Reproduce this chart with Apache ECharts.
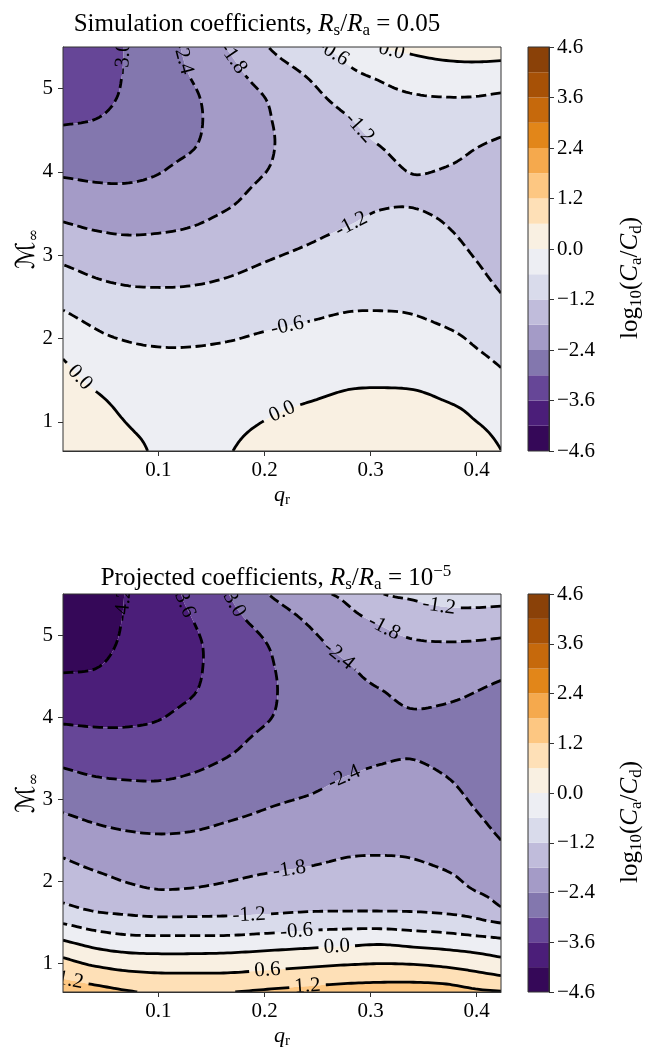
<!DOCTYPE html>
<html>
<head>
<meta charset="utf-8">
<script src="https://cdn.jsdelivr.net/npm/echarts@6.0.0/dist/echarts.min.js"></script>
<style>
html,body{margin:0;padding:0;background:#ffffff;}
#chart{width:649px;height:1051px;}
</style>
</head>
<body>
<div id="chart"></div>
<script>
// ================= DATA =================
// grid of mass ratio q_r (columns) and Mach number M_inf (rows)
const qr = [0.01, 0.04, 0.07, 0.10, 0.13, 0.165, 0.20, 0.245, 0.28, 0.31, 0.34, 0.37, 0.40, 0.423];
const mach = [0.65, 0.85, 1.05, 1.25, 1.45, 1.65, 1.9, 2.2, 2.5, 2.8, 3.1, 3.4, 3.7, 4.0, 4.3, 4.6, 4.9, 5.2, 5.5];

// log10(Ca/Cd), simulation coefficients (Rs/Ra = 0.05): one array per q_r value, entries over mach
const simCoeff = [
  [0.45, 0.42, 0.37, 0.30, 0.20, 0.08, -0.13, -0.45, -0.77, -1.10, -1.45, -1.80, -2.14, -2.47, -2.76, -3.03, -3.20, -3.33, -3.42],
  [0.42, 0.35, 0.24, 0.10, -0.06, -0.22, -0.42, -0.67, -0.97, -1.27, -1.59, -1.91, -2.23, -2.51, -2.75, -2.98, -3.15, -3.27, -3.35],
  [0.25, 0.08, -0.04, -0.15, -0.28, -0.40, -0.55, -0.80, -1.07, -1.36, -1.66, -1.95, -2.24, -2.52, -2.72, -2.84, -2.93, -2.96, -2.97],
  [-0.12, -0.15, -0.20, -0.27, -0.36, -0.46, -0.60, -0.85, -1.10, -1.37, -1.65, -1.92, -2.17, -2.42, -2.58, -2.67, -2.72, -2.75, -2.76],
  [-0.30, -0.32, -0.35, -0.40, -0.46, -0.52, -0.60, -0.84, -1.09, -1.34, -1.60, -1.85, -2.05, -2.23, -2.44, -2.51, -2.49, -2.37, -2.24],
  [-0.04, -0.10, -0.17, -0.25, -0.34, -0.44, -0.56, -0.78, -1.02, -1.25, -1.47, -1.69, -1.90, -2.02, -2.12, -2.15, -2.11, -1.98, -1.78],
  [0.22, 0.10, -0.02, -0.13, -0.25, -0.36, -0.48, -0.68, -0.90, -1.12, -1.32, -1.48, -1.65, -1.81, -1.87, -1.86, -1.80, -1.55, -1.25],
  [0.42, 0.32, 0.16, 0.00, -0.13, -0.27, -0.40, -0.59, -0.79, -0.98, -1.17, -1.33, -1.45, -1.53, -1.55, -1.50, -1.33, -1.08, -0.68],
  [0.48, 0.40, 0.28, 0.10, -0.04, -0.16, -0.31, -0.52, -0.71, -0.88, -1.05, -1.22, -1.33, -1.38, -1.35, -1.24, -0.98, -0.67, -0.40],
  [0.50, 0.42, 0.30, 0.13, -0.03, -0.16, -0.31, -0.52, -0.69, -0.83, -0.98, -1.13, -1.26, -1.30, -1.20, -0.98, -0.76, -0.47, 0.01],
  [0.52, 0.44, 0.31, 0.12, -0.05, -0.18, -0.33, -0.55, -0.70, -0.84, -0.98, -1.12, -1.24, -1.19, -1.02, -0.83, -0.64, -0.27, 0.12],
  [0.50, 0.40, 0.23, 0.00, -0.14, -0.26, -0.42, -0.64, -0.79, -0.94, -1.08, -1.21, -1.31, -1.23, -1.03, -0.81, -0.60, -0.18, 0.20],
  [0.35, 0.15, -0.04, -0.17, -0.29, -0.43, -0.61, -0.78, -0.95, -1.13, -1.28, -1.38, -1.42, -1.36, -1.19, -0.90, -0.61, -0.17, 0.25],
  [0.01, -0.12, -0.24, -0.35, -0.47, -0.60, -0.77, -0.97, -1.17, -1.36, -1.50, -1.60, -1.63, -1.55, -1.32, -1.00, -0.67, -0.21, 0.25]
];

// log10(Ca/Cd), projected coefficients (Rs/Ra = 1e-5): one array per q_r value, entries over mach
const projCoeff = [
  [1.58, 1.11, 0.65, 0.09, -0.50, -1.05, -1.40, -1.71, -2.03, -2.36, -2.69, -3.02, -3.36, -3.69, -3.97, -4.25, -4.40, -4.48, -4.52],
  [1.42, 0.91, 0.37, -0.18, -0.74, -1.24, -1.54, -1.88, -2.19, -2.50, -2.81, -3.13, -3.43, -3.71, -3.96, -4.21, -4.36, -4.44, -4.48],
  [1.25, 0.75, 0.22, -0.33, -0.87, -1.32, -1.70, -2.01, -2.29, -2.58, -2.87, -3.16, -3.44, -3.70, -3.90, -4.03, -4.12, -4.16, -4.18],
  [1.12, 0.68, 0.17, -0.35, -0.92, -1.38, -1.80, -2.06, -2.33, -2.61, -2.89, -3.15, -3.39, -3.63, -3.80, -3.89, -3.94, -3.96, -3.97],
  [1.10, 0.67, 0.17, -0.35, -0.92, -1.37, -1.78, -2.05, -2.31, -2.57, -2.83, -3.07, -3.26, -3.45, -3.64, -3.71, -3.72, -3.62, -3.45],
  [1.18, 0.68, 0.20, -0.34, -0.91, -1.34, -1.70, -1.98, -2.22, -2.46, -2.69, -2.92, -3.12, -3.25, -3.34, -3.36, -3.32, -3.18, -3.02],
  [1.28, 0.76, 0.26, -0.26, -0.85, -1.30, -1.60, -1.90, -2.13, -2.35, -2.54, -2.71, -2.88, -3.05, -3.10, -3.09, -3.02, -2.80, -2.45],
  [1.40, 0.87, 0.35, -0.17, -0.73, -1.24, -1.50, -1.81, -2.01, -2.22, -2.42, -2.56, -2.66, -2.72, -2.73, -2.66, -2.52, -2.28, -1.92],
  [1.48, 0.95, 0.42, -0.11, -0.69, -1.23, -1.45, -1.73, -1.93, -2.11, -2.29, -2.45, -2.54, -2.57, -2.54, -2.43, -2.20, -1.93, -1.67],
  [1.52, 0.98, 0.46, -0.06, -0.69, -1.23, -1.45, -1.72, -1.91, -2.07, -2.23, -2.39, -2.48, -2.50, -2.42, -2.20, -1.98, -1.70, -1.22],
  [1.52, 0.98, 0.42, -0.15, -0.75, -1.24, -1.47, -1.75, -1.92, -2.07, -2.22, -2.37, -2.45, -2.44, -2.28, -2.06, -1.85, -1.50, -1.10],
  [1.50, 0.90, 0.33, -0.23, -0.82, -1.29, -1.57, -1.85, -2.00, -2.15, -2.30, -2.45, -2.53, -2.50, -2.29, -2.06, -1.82, -1.40, -0.98],
  [1.30, 0.73, 0.20, -0.34, -0.95, -1.43, -1.83, -2.01, -2.19, -2.37, -2.52, -2.63, -2.68, -2.62, -2.41, -2.13, -1.84, -1.40, -0.95],
  [1.23, 0.60, 0.06, -0.44, -1.06, -1.73, -1.97, -2.18, -2.40, -2.58, -2.72, -2.82, -2.86, -2.78, -2.55, -2.23, -1.89, -1.44, -0.96]
];

// contour levels and tick labels
const levels = [-4.6, -4.2, -3.6, -3.0, -2.4, -1.8, -1.2, -0.6, 0.0, 0.6, 1.2, 1.8, 2.4, 3.0, 3.6, 4.2, 4.6];
const cbarTicks = [-4.6, -3.6, -2.4, -1.2, 0.0, 1.2, 2.4, 3.6, 4.6];
const qrTicks = [0.1, 0.2, 0.3, 0.4];
const machTicks = [1, 2, 3, 4, 5];

// contour label anchors: [level, q_r, M_inf]
const simLabels = [
  [-3.0, 0.066, 5.37], [-2.4, 0.121, 5.37], [-1.8, 0.172, 5.38], [-0.6, 0.265, 5.43], [0.0, 0.318, 5.46],
  [-1.2, 0.292, 4.53], [-1.2, 0.281, 3.36], [-0.6, 0.222, 2.16], [0.0, 0.026, 1.56], [0.0, 0.216, 1.12]
];
const projLabels = [
  [-4.2, 0.068, 5.38], [-3.6, 0.122, 5.39], [-3.0, 0.172, 5.40], [-2.4, 0.271, 4.79], [-1.8, 0.313, 5.11],
  [-1.2, 0.363, 5.37], [-2.4, 0.273, 3.29], [-1.8, 0.222, 2.12], [-1.2, 0.185, 1.57], [-0.6, 0.229, 1.39],
  [0.0, 0.268, 1.20], [0.6, 0.204, 0.92], [1.2, 0.240, 0.74], [1.2, 0.018, 0.78]
];

// ================= STYLE =================
const FONT = '"Liberation Serif", "Times New Roman", serif';
const LABEL_FONT = '21px "Liberation Serif", serif';
const PUOR_R = ['#2d004b', '#542788', '#8073ac', '#b2abd2', '#d8daeb', '#f7f7f7', '#fee0b6', '#fdb863', '#e08214', '#b35806', '#7f3b08'];
function hexRgb(h) { return [parseInt(h.slice(1, 3), 16), parseInt(h.slice(3, 5), 16), parseInt(h.slice(5, 7), 16)]; }
function cmap(t) {
  t = Math.max(0, Math.min(1, t));
  const s = t * (PUOR_R.length - 1);
  const k = Math.min(PUOR_R.length - 2, Math.floor(s));
  const f = s - k;
  const a = hexRgb(PUOR_R[k]), b = hexRgb(PUOR_R[k + 1]);
  return 'rgb(' + a.map((v, i) => Math.round(v + f * (b[i] - v))).join(',') + ')';
}
const NB = levels.length - 1;
const bandColors = [];
for (let k = 0; k < NB; k++) {
  const mid = (levels[k] + levels[k + 1]) / 2;
  bandColors.push(cmap((mid - levels[0]) / (levels[NB] - levels[0])));
}

// ================= HELPERS =================
function tangents(xs, vs) {
  const n = xs.length, m = new Array(n);
  for (let i = 0; i < n; i++) {
    if (i === 0) m[i] = (vs[1] - vs[0]) / (xs[1] - xs[0]);
    else if (i === n - 1) m[i] = (vs[n - 1] - vs[n - 2]) / (xs[n - 1] - xs[n - 2]);
    else {
      const h0 = xs[i] - xs[i - 1], h1 = xs[i + 1] - xs[i];
      const d0 = (vs[i] - vs[i - 1]) / h0, d1 = (vs[i + 1] - vs[i]) / h1;
      m[i] = (d0 * h1 + d1 * h0) / (h0 + h1);
    }
  }
  return m;
}
function hermite(xs, vs, m, x) {
  let k = 0;
  while (k < xs.length - 2 && x > xs[k + 1]) k++;
  const h = xs[k + 1] - xs[k];
  let t = (x - xs[k]) / h; t = Math.max(0, Math.min(1, t));
  const t2 = t * t, t3 = t2 * t;
  return (2 * t3 - 3 * t2 + 1) * vs[k] + (t3 - 2 * t2 + t) * h * m[k] + (-2 * t3 + 3 * t2) * vs[k + 1] + (t3 - t2) * h * m[k + 1];
}
function bandOf(v) {
  for (let k = 0; k < NB - 1; k++) if (v < levels[k + 1]) return k;
  return NB - 1;
}
function clipPoly(poly, t, keepAbove) {
  const out = [], n = poly.length;
  const ins = p => keepAbove ? p[2] >= t : p[2] <= t;
  for (let k = 0; k < n; k++) {
    const P = poly[k], Q = poly[(k + 1) % n];
    const pi = ins(P), qi = ins(Q);
    if (pi) out.push(P);
    if (pi !== qi) {
      const s = (t - P[2]) / (Q[2] - P[2]);
      out.push([P[0] + s * (Q[0] - P[0]), P[1] + s * (Q[1] - P[1]), t]);
    }
  }
  return out;
}
const measureCtx = document.createElement('canvas').getContext('2d');
function textWidth(t, font) { measureCtx.font = font; return measureCtx.measureText(t).width; }
function fmtLabel(v) { return (Math.abs(v) < 1e-9 ? 0 : v).toFixed(1); }
function fmtTick(v) { return (v < -1e-9 ? '\u2212' : '') + Math.abs(v).toFixed(1); }

function makeContourRenderer(cols, labelDefs) {
  return function (params, api) {
    const NX = 120, NY = 110;
    const x0 = qr[0], x1 = qr[qr.length - 1], y0 = mach[0], y1 = mach[mach.length - 1];
    const sxv = [], syv = [];
    for (let i = 0; i <= NX; i++) sxv.push(x0 + (x1 - x0) * i / NX);
    for (let j = 0; j <= NY; j++) syv.push(y0 + (y1 - y0) * j / NY);
    // smooth field from the read grid (cubic Hermite along Mach, then along q_r)
    const A = cols.map(col => { const m = tangents(mach, col); return syv.map(y => hermite(mach, col, m, y)); });
    const F = [];
    for (let i = 0; i <= NX; i++) F.push(new Array(NY + 1));
    for (let j = 0; j <= NY; j++) {
      const row = A.map(a => a[j]);
      const m = tangents(qr, row);
      for (let i = 0; i <= NX; i++) F[i][j] = hermite(qr, row, m, sxv[i]);
    }
    const PX = sxv.map(x => api.coord([x, y0])[0]);
    const PY = syv.map(y => api.coord([x0, y])[1]);

    // ---- filled bands ----
    const paths = Array.from({ length: NB }, () => []);
    const f = n => n.toFixed(1);
    const addPoly = (k, poly) => { if (poly.length >= 3) paths[k].push('M' + poly.map(p => f(p[0]) + ' ' + f(p[1])).join('L') + 'Z'); };
    const clipTri = (p, q, r) => {
      const b0 = bandOf(Math.min(p[2], q[2], r[2])), b1 = bandOf(Math.max(p[2], q[2], r[2]));
      for (let k = b0; k <= b1; k++) {
        let poly = [p, q, r];
        if (k > 0) poly = clipPoly(poly, levels[k], true);
        if (k < NB - 1 && poly.length) poly = clipPoly(poly, levels[k + 1], false);
        addPoly(k, poly);
      }
    };
    for (let j = 0; j < NY; j++) {
      let runBand = -1, runStart = 0;
      const flush = iEnd => {
        if (runBand >= 0) paths[runBand].push('M' + f(PX[runStart]) + ' ' + f(PY[j]) + 'L' + f(PX[iEnd]) + ' ' + f(PY[j]) + 'L' + f(PX[iEnd]) + ' ' + f(PY[j + 1]) + 'L' + f(PX[runStart]) + ' ' + f(PY[j + 1]) + 'Z');
        runBand = -1;
      };
      for (let i = 0; i < NX; i++) {
        const a = F[i][j], b = F[i + 1][j], c = F[i + 1][j + 1], d = F[i][j + 1];
        const ba = bandOf(a);
        if (ba === bandOf(b) && ba === bandOf(c) && ba === bandOf(d)) {
          if (runBand === ba) continue;
          flush(i); runBand = ba; runStart = i;
        } else {
          flush(i);
          const P0 = [PX[i], PY[j], a], P1 = [PX[i + 1], PY[j], b], P2 = [PX[i + 1], PY[j + 1], c], P3 = [PX[i], PY[j + 1], d];
          clipTri(P0, P1, P2); clipTri(P0, P2, P3);
        }
      }
      flush(NX);
    }
    const children = [];
    for (let k = 0; k < NB; k++) {
      if (!paths[k].length) continue;
      children.push({ type: 'path', shape: { pathData: paths[k].join('') }, style: { fill: bandColors[k], stroke: null } });
    }

    // ---- contour lines (marching squares) ----
    function contourChains(level) {
      const pts = new Map(), adj = new Map();
      const link = (k1, k2) => {
        if (!adj.has(k1)) adj.set(k1, []);
        if (!adj.has(k2)) adj.set(k2, []);
        adj.get(k1).push(k2); adj.get(k2).push(k1);
      };
      const ep = (key, xa, ya, va, xb, yb, vb) => {
        if (!pts.has(key)) { const s = (level - va) / (vb - va); pts.set(key, [xa + s * (xb - xa), ya + s * (yb - ya)]); }
        return key;
      };
      for (let j = 0; j < NY; j++) for (let i = 0; i < NX; i++) {
        const a = F[i][j], b = F[i + 1][j], c = F[i + 1][j + 1], d = F[i][j + 1];
        const ia = a >= level, ib = b >= level, ic = c >= level, id = d >= level;
        if (ia === ib && ib === ic && ic === id) continue;
        const E = {};
        if (ia !== ib) E.B = ep('h' + i + '_' + j, PX[i], PY[j], a, PX[i + 1], PY[j], b);
        if (ib !== ic) E.R = ep('v' + (i + 1) + '_' + j, PX[i + 1], PY[j], b, PX[i + 1], PY[j + 1], c);
        if (id !== ic) E.T = ep('h' + i + '_' + (j + 1), PX[i], PY[j + 1], d, PX[i + 1], PY[j + 1], c);
        if (ia !== id) E.L = ep('v' + i + '_' + j, PX[i], PY[j], a, PX[i], PY[j + 1], d);
        const ks = Object.keys(E);
        if (ks.length === 2) link(E[ks[0]], E[ks[1]]);
        else if (ks.length === 4) {
          const center = (a + b + c + d) / 4 >= level;
          if (ia && ic) {
            if (center) { link(E.B, E.R); link(E.L, E.T); } else { link(E.B, E.L); link(E.R, E.T); }
          } else {
            if (center) { link(E.B, E.L); link(E.R, E.T); } else { link(E.B, E.R); link(E.L, E.T); }
          }
        }
      }
      const visited = new Set(), chains = [];
      const walk = s => {
        const ch = [s]; visited.add(s); let cur = s;
        for (;;) {
          let nxt = null;
          for (const n of adj.get(cur)) if (!visited.has(n)) { nxt = n; break; }
          if (nxt === null) break;
          visited.add(nxt); ch.push(nxt); cur = nxt;
        }
        return ch;
      };
      for (const [k, nb] of adj) if (nb.length === 1 && !visited.has(k)) chains.push(walk(k));
      for (const [k] of adj) if (!visited.has(k)) { const ch = walk(k); ch.push(ch[0]); chains.push(ch); }
      return chains.map(ch => ch.map(k => pts.get(k)));
    }
    const lineEls = [], textEls = [];
    for (let li = 1; li < levels.length - 1; li++) {
      const lev = levels[li];
      const chains = contourChains(lev);
      if (!chains.length) continue;
      const labs = [];
      for (const L of labelDefs) {
        if (Math.abs(L[0] - lev) > 1e-9) continue;
        const tp = api.coord([L[1], L[2]]);
        let best = null, bd = Infinity;
        chains.forEach((ch, ci) => ch.forEach((p, pi) => {
          const dd = (p[0] - tp[0]) ** 2 + (p[1] - tp[1]) ** 2;
          if (dd < bd) { bd = dd; best = [ci, pi]; }
        }));
        let cx = tp[0], cy = tp[1], ux = 1, uy = 0;
        if (best && bd < 45 * 45) {
          const ch = chains[best[0]], pi = best[1];
          const pa = ch[Math.max(0, pi - 3)], pb = ch[Math.min(ch.length - 1, pi + 3)];
          cx = ch[pi][0]; cy = ch[pi][1];
          ux = pb[0] - pa[0]; uy = pb[1] - pa[1];
          const nn = Math.hypot(ux, uy) || 1; ux /= nn; uy /= nn;
        }
        if (ux < 0) { ux = -ux; uy = -uy; }
        const txt = fmtLabel(lev);
        const w = textWidth(txt, LABEL_FONT);
        labs.push({ x: cx, y: cy, ux, uy, hw: w / 2 + 4, hh: 11 });
        textEls.push({
          type: 'text', x: cx, y: cy, rotation: -Math.atan2(uy, ux), z2: 20,
          style: { text: txt, font: LABEL_FONT, fill: '#000', align: 'center', verticalAlign: 'middle' }
        });
      }
      const dashed = lev < -1e-9;
      for (const ch of chains) {
        let cur = [];
        const pieces = [];
        for (const p of ch) {
          let hidden = false;
          for (const L of labs) {
            const dx = p[0] - L.x, dy = p[1] - L.y;
            const al = dx * L.ux + dy * L.uy, pe = -dx * L.uy + dy * L.ux;
            if (Math.abs(al) < L.hw && Math.abs(pe) < L.hh) { hidden = true; break; }
          }
          if (hidden) { if (cur.length > 1) pieces.push(cur); cur = []; } else cur.push(p);
        }
        if (cur.length > 1) pieces.push(cur);
        for (const pc of pieces) {
          lineEls.push({
            type: 'polyline', z2: 10, shape: { points: pc },
            style: { stroke: '#000', fill: 'none', lineWidth: 2.8, lineDash: dashed ? [10.4, 4.5] : null, lineCap: 'butt', lineJoin: 'round' }
          });
        }
      }
    }
    return { type: 'group', children: children.concat(lineEls, textEls) };
  };
}

function cbarRender(params, api) {
  const k = api.value(1);
  const p0 = api.coord([0, k]), p1 = api.coord([1, k + 1]);
  return { type: 'rect', shape: { x: p0[0], y: p1[1], width: p1[0] - p0[0], height: p0[1] - p1[1] }, style: { fill: bandColors[k], stroke: null } };
}

// ================= LAYOUT & OPTION =================
const cbarTickIdx = cbarTicks.map(v => levels.findIndex(l => Math.abs(l - v) < 1e-9));
const subRich = {
  i: { fontFamily: FONT, fontStyle: 'italic', fontSize: 22, lineHeight: 26, color: '#000' },
  n: { fontFamily: FONT, fontSize: 22, lineHeight: 26, color: '#000' },
  s: { fontFamily: FONT, fontSize: 15, lineHeight: 15, verticalAlign: 'bottom', color: '#000' }
};
const yRich = {
  m: { fontFamily: '"DejaVu Serif", "DejaVu Sans", serif', fontSize: 26, lineHeight: 30, color: '#000' },
  s: { fontFamily: '"DejaVu Serif", serif', fontSize: 15, lineHeight: 15, verticalAlign: 'bottom', color: '#000' }
};
const cbRich = {
  i: { fontFamily: FONT, fontStyle: 'italic', fontSize: 25, lineHeight: 30, color: '#000' },
  n: { fontFamily: FONT, fontSize: 25, lineHeight: 30, color: '#000' },
  s: { fontFamily: FONT, fontSize: 17, lineHeight: 17, verticalAlign: 'bottom', color: '#000' }
};
const tickLabel = { fontFamily: FONT, fontSize: 21, color: '#000' };
const axisLineStyle = { color: '#333', width: 1 };

function plotAxes(gi) {
  return {
    x: {
      gridIndex: gi, type: 'value', min: qr[0], max: qr[qr.length - 1],
      axisLine: { show: true, onZero: false, lineStyle: axisLineStyle },
      axisTick: { show: true, length: 5, customValues: qrTicks, lineStyle: axisLineStyle },
      axisLabel: { customValues: qrTicks, formatter: v => v.toFixed(1), margin: 9, ...tickLabel },
      splitLine: { show: false },
      name: '{i|q}{s|r}', nameLocation: 'middle', nameGap: 31, nameMoveOverlap: false,
      nameTextStyle: { rich: subRich }
    },
    y: {
      gridIndex: gi, type: 'value', min: mach[0], max: mach[mach.length - 1],
      axisLine: { show: true, onZero: false, lineStyle: axisLineStyle },
      axisTick: { show: true, length: 5, customValues: machTicks, lineStyle: axisLineStyle },
      axisLabel: { customValues: machTicks, formatter: v => String(v), margin: 10, ...tickLabel },
      splitLine: { show: false },
      name: '{m|\u2133}{s|\u221e}', nameLocation: 'middle', nameRotate: 90, nameGap: 21, nameMoveOverlap: false,
      nameTextStyle: { rich: yRich }
    }
  };
}
function cbarAxes(gi) {
  return {
    x: { gridIndex: gi, type: 'value', min: 0, max: 1, show: false },
    y: {
      gridIndex: gi, type: 'value', min: 0, max: NB, position: 'right',
      axisLine: { show: true, onZero: false, lineStyle: axisLineStyle },
      axisTick: { show: true, length: 5, customValues: cbarTickIdx, lineStyle: axisLineStyle },
      axisLabel: { customValues: cbarTickIdx, formatter: v => fmtTick(levels[Math.round(v)]), margin: 8, ...tickLabel },
      splitLine: { show: false },
      name: '{n|log}{s|10}{n|(}{i|C}{s|a}{n|/}{i|C}{s|d}{n|)}', nameLocation: 'middle', nameRotate: 90, nameGap: 66, nameMoveOverlap: false,
      nameTextStyle: { rich: cbRich, padding: [0, 58, 0, 0] }
    }
  };
}
const a0 = plotAxes(0), c1 = cbarAxes(1), a2 = plotAxes(2), c3 = cbarAxes(3);
const gridBase = { show: true, borderColor: '#333', borderWidth: 1, backgroundColor: 'transparent', z: 3, outerBoundsMode: 'none', containLabel: false };

const titleRich = {
  n: { fontFamily: FONT, fontSize: 25, lineHeight: 30, fill: '#000' },
  i: { fontFamily: FONT, fontStyle: 'italic', fontSize: 25, lineHeight: 30, fill: '#000' },
  s: { fontFamily: FONT, fontSize: 17, lineHeight: 17, verticalAlign: 'bottom', fill: '#000' },
  p: { fontFamily: FONT, fontSize: 17, lineHeight: 17, verticalAlign: 'top', fill: '#000' }
};

const option = {
  animation: false,
  backgroundColor: '#ffffff',
  grid: [
    { ...gridBase, left: 63, top: 47, width: 438, height: 404 },
    { ...gridBase, left: 528, top: 47, width: 21, height: 404 },
    { ...gridBase, left: 63, top: 594, width: 438, height: 398 },
    { ...gridBase, left: 528, top: 594, width: 21, height: 398 }
  ],
  xAxis: [a0.x, c1.x, a2.x, c3.x],
  yAxis: [a0.y, c1.y, a2.y, c3.y],
  graphic: [
    { type: 'text', x: 257, y: 24, style: { text: '{n|Simulation coefficients, }{i|R}{s|s}{n|/}{i|R}{s|a}{n| = 0.05}', rich: titleRich, align: 'center', verticalAlign: 'middle' } },
    { type: 'text', x: 276, y: 578, style: { text: '{n|Projected coefficients, }{i|R}{s|s}{n|/}{i|R}{s|a}{n| = 10}{p|\u22125}', rich: titleRich, align: 'center', verticalAlign: 'middle' } }
  ],
  series: [
    { type: 'custom', name: 'simulation', xAxisIndex: 0, yAxisIndex: 0, clip: true, z: 2, silent: true,
      data: [[qr[0], mach[0]]], renderItem: makeContourRenderer(simCoeff, simLabels) },
    { type: 'custom', name: 'cbar1', xAxisIndex: 1, yAxisIndex: 1, z: 2, silent: true,
      data: bandColors.map((c, k) => [0, k]), renderItem: cbarRender },
    { type: 'custom', name: 'projected', xAxisIndex: 2, yAxisIndex: 2, clip: true, z: 2, silent: true,
      data: [[qr[0], mach[0]]], renderItem: makeContourRenderer(projCoeff, projLabels) },
    { type: 'custom', name: 'cbar2', xAxisIndex: 3, yAxisIndex: 3, z: 2, silent: true,
      data: bandColors.map((c, k) => [0, k]), renderItem: cbarRender }
  ]
};
const chart = echarts.init(document.getElementById('chart'), null, { renderer: 'canvas' });
chart.setOption(option);
</script>
</body>
</html>
